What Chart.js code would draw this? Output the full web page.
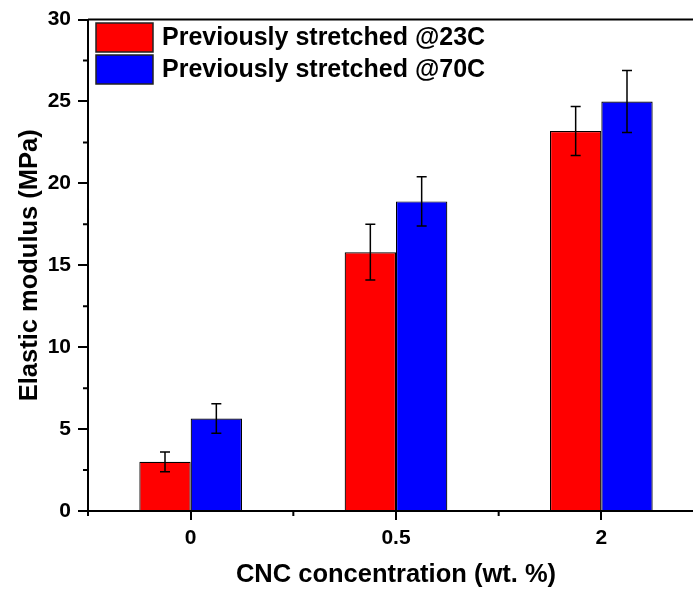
<!DOCTYPE html>
<html>
<head>
<meta charset="utf-8">
<script src="https://cdn.jsdelivr.net/npm/chart.js@4.4.0/dist/chart.umd.min.js"></script>
<style>
  html, body { margin: 0; padding: 0; overflow: hidden; background: #fff; }
  #wrap { width: 693px; height: 592px; overflow: hidden; }
</style>
</head>
<body>
<div id="wrap"><canvas id="modulusChart" width="712" height="592"></canvas></div>
<script>
// CNC concentration groups
const concentrations = ['0', '0.5', '2'];
// elastic modulus, MPa
const stretched23 = [3.0, 15.8, 23.2];
const stretched23Err = [0.6, 1.7, 1.5];
const stretched70 = [5.65, 18.9, 25.0];
const stretched70Err = [0.9, 1.5, 1.9];
const yTicks = [0, 5, 10, 15, 20, 25, 30];
const yMinorTicks = [2.5, 7.5, 12.5, 17.5, 22.5, 27.5];

const FONT = "'Liberation Sans', Arial, sans-serif";

// error bars, minor ticks, top frame line, legend
const extras = {
    id: 'extras',
    afterDatasetsDraw(chart) {
        const ctx = chart.ctx;
        const y = chart.scales.y;
        const errs = [stretched23Err, stretched70Err];
        ctx.save();
        ctx.strokeStyle = '#000';
        ctx.lineWidth = 1.5;
        chart.data.datasets.forEach((ds, di) => {
            const meta = chart.getDatasetMeta(di);
            meta.data.forEach((bar, i) => {
                const v = ds.data[i];
                const hi = y.getPixelForValue(v + errs[di][i]);
                const lo = y.getPixelForValue(v - errs[di][i]);
                ctx.beginPath();
                ctx.moveTo(bar.x, hi); ctx.lineTo(bar.x, lo);
                ctx.moveTo(bar.x - 5, hi); ctx.lineTo(bar.x + 5, hi);
                ctx.moveTo(bar.x - 5, lo); ctx.lineTo(bar.x + 5, lo);
                ctx.stroke();
            });
        });
        ctx.restore();
    },
    afterDraw(chart) {
        const ctx = chart.ctx;
        const area = chart.chartArea;
        const x = chart.scales.x;
        const y = chart.scales.y;
        ctx.save();
        ctx.strokeStyle = '#000';
        ctx.lineWidth = 2;
        // top frame
        ctx.beginPath();
        ctx.moveTo(area.left, area.top);
        ctx.lineTo(area.right, area.top);
        ctx.stroke();
        // y minor ticks
        ctx.beginPath();
        yMinorTicks.forEach(v => {
            const py = y.getPixelForValue(v);
            ctx.moveTo(area.left - 5, py); ctx.lineTo(area.left, py);
        });
        // x minor ticks at category boundaries
        for (let i = 0; i <= concentrations.length; i++) {
            const px = x.getPixelForValue(i - 0.5);
            ctx.moveTo(px, area.bottom); ctx.lineTo(px, area.bottom + 5);
        }
        ctx.stroke();

        // legend
        const boxX = 96, boxW = 57, boxH = 29;
        const rows = [23, 55];
        ctx.font = 'bold 25px ' + FONT;
        ctx.textBaseline = 'middle';
        ctx.textAlign = 'left';
        chart.data.datasets.forEach((ds, di) => {
            const top = rows[di];
            ctx.fillStyle = ds.backgroundColor;
            ctx.fillRect(boxX, top, boxW, boxH);
            ctx.lineWidth = 1.5;
            ctx.strokeStyle = '#222';
            ctx.strokeRect(boxX, top, boxW, boxH);
            ctx.fillStyle = '#000';
            ctx.fillText(ds.label, 162, top + boxH / 2 + 1);
        });
        ctx.restore();
    }
};

const ctx = document.getElementById('modulusChart').getContext('2d');
const modulusChart = new Chart(ctx, {
    type: 'bar',
    data: {
        labels: concentrations,
        datasets: [{
            label: 'Previously stretched @23C',
            data: stretched23,
            backgroundColor: '#ff0000',
            borderColor: '#000',
            borderWidth: 1.2
        }, {
            label: 'Previously stretched @70C',
            data: stretched70,
            backgroundColor: '#0000ff',
            borderColor: '#000',
            borderWidth: 1.2
        }]
    },
    options: {
        responsive: false,
        animation: false,
        layout: { padding: { top: 14, right: 8, left: 0, bottom: 0 } },
        categoryPercentage: 0.5,
        barPercentage: 1.0,
        scales: {
            x: {
                grid: { display: true, drawOnChartArea: false, offset: false, tickLength: 9, color: '#000', lineWidth: 2 },
                border: { color: '#000', width: 2 },
                ticks: { color: '#000', padding: 6, font: { family: FONT, size: 21, weight: 'bold' } },
                title: {
                    display: true,
                    text: 'CNC concentration (wt. %)',
                    color: '#000',
                    font: { family: FONT, size: 25.5, weight: 'bold' },
                    padding: { top: 0, bottom: 2 }
                },
                afterFit(scale) { scale.height = 81; }
            },
            y: {
                min: 0,
                max: 30,
                afterBuildTicks(scale) { scale.ticks = yTicks.map(v => ({ value: v })); },
                grid: { display: true, drawOnChartArea: false, tickLength: 10, color: '#000', lineWidth: 2 },
                border: { color: '#000', width: 2 },
                ticks: { color: '#000', padding: 7, font: { family: FONT, size: 21, weight: 'bold' } },
                title: {
                    display: true,
                    text: 'Elastic modulus (MPa)',
                    color: '#000',
                    font: { family: FONT, size: 25.5, weight: 'bold' },
                    padding: { top: 15, bottom: 0 }
                },
                afterFit(scale) { scale.width = 88; }
            }
        },
        plugins: {
            legend: { display: false },
            tooltip: { enabled: false }
        }
    },
    plugins: [extras]
});
</script>
</body>
</html>
